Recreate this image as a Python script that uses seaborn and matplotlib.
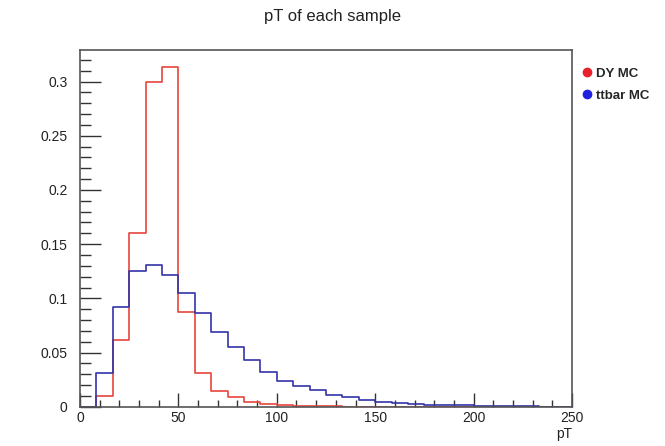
import numpy as np
import pandas as pd
import matplotlib
matplotlib.use("Agg")
import matplotlib.pyplot as plt
from matplotlib.ticker import MultipleLocator
from matplotlib.lines import Line2D
import seaborn as sns

# ---- data ----
bin_edges = [i * 250 / 30 for i in range(31)]
dy_mc = [0.0, 0.0099, 0.062, 0.160, 0.2995, 0.3135, 0.0872, 0.0314, 0.0148, 0.0089,
         0.0046, 0.0025, 0.0015, 0.0010, 0.0007, 0.0004, 0.0, 0.0, 0.0, 0.0,
         0.0, 0.0, 0.0, 0.0, 0.0, 0.0, 0.0, 0.0, 0.0, 0.0]
ttbar_mc = [0.0, 0.031, 0.092, 0.125, 0.131, 0.1215, 0.1046, 0.0867, 0.0692, 0.0548,
            0.0431, 0.0323, 0.024, 0.019, 0.0154, 0.0108, 0.0085, 0.0063, 0.0046, 0.0037,
            0.0028, 0.0020, 0.0015, 0.0012, 0.0009, 0.0007, 0.0005, 0.0003, 0.0, 0.0]
series_names = ["DY MC", "ttbar MC"]
series_colors = ["#e8453c", "#3434aa"]
x_ticks = [0, 50, 100, 150, 200, 250]
y_ticks = [0, 0.05, 0.1, 0.15, 0.2, 0.25, 0.3]
y_tick_labels = ["0", "0.05", "0.1", "0.15", "0.2", "0.25", "0.3"]

edges = np.array(bin_edges)
centers = (edges[:-1] + edges[1:]) / 2
df = pd.DataFrame({
    "pT": np.concatenate([centers, centers]),
    "w": np.concatenate([dy_mc, ttbar_mc]),
    "sample": [series_names[0]] * len(centers) + [series_names[1]] * len(centers),
})

sns.set_style("white")
plt.rcParams["font.family"] = ["Liberation Sans", "DejaVu Sans"]

fig = plt.figure(figsize=(6.65, 4.46), dpi=100)
ax = fig.add_axes([80 / 665, 1 - 406.7 / 446, (572 - 80) / 665, (406.7 - 50) / 446])

for name, col in zip(series_names, series_colors):
    sub = df[df["sample"] == name].reset_index(drop=True)
    sns.histplot(data=sub, x="pT", weights="w", bins=list(bin_edges), element="step",
                 fill=False, color=col, linewidth=1.2, ax=ax)

ax.set_xlim(0, 250)
ax.set_ylim(0, 0.3135 * 1.05)
ax.set_xticks(x_ticks)
ax.set_xticklabels([str(t) for t in x_ticks])
ax.set_yticks(y_ticks)
ax.set_yticklabels(y_tick_labels)
ax.xaxis.set_minor_locator(MultipleLocator(10))
ax.yaxis.set_minor_locator(MultipleLocator(0.01))
ax.tick_params(axis="both", which="both", direction="in", bottom=True, left=True,
               top=False, right=False, labelsize=10, labelcolor="#222222", color="#333333")
ax.tick_params(axis="x", which="major", length=10, width=1)
ax.tick_params(axis="x", which="minor", length=5, width=1)
ax.tick_params(axis="y", which="major", length=15, width=1)
ax.tick_params(axis="y", which="minor", length=8, width=1)
ax.tick_params(axis="y", which="both", pad=9)
ax.tick_params(axis="x", which="both", pad=3)
ax.set_xlabel("")
ax.set_ylabel("")
for s in ax.spines.values():
    s.set_color("#555555")
    s.set_linewidth(1.2)

fig.text(572 / 665, 1 - 434 / 446, "pT", ha="right", va="center", fontsize=10, color="#222222")
fig.text(0.5, 1 - 17 / 446, "pT of each sample", ha="center", va="center", fontsize=12, color="#222222")

handles = [Line2D([0], [0], marker="o", linestyle="", markersize=6,
                  markerfacecolor=c, markeredgecolor=c) for c in ["#e8202a", "#2020e0"]]
leg = fig.legend(handles, series_names, loc="upper left", bbox_to_anchor=(574 / 665, 1 - 62 / 446),
                 frameon=False, handletextpad=0.1, labelspacing=0.75, borderaxespad=0,
                 prop={"weight": "bold", "size": 9.5}, handlelength=1.2)

fig.savefig("out.png", dpi=100, facecolor="white")
